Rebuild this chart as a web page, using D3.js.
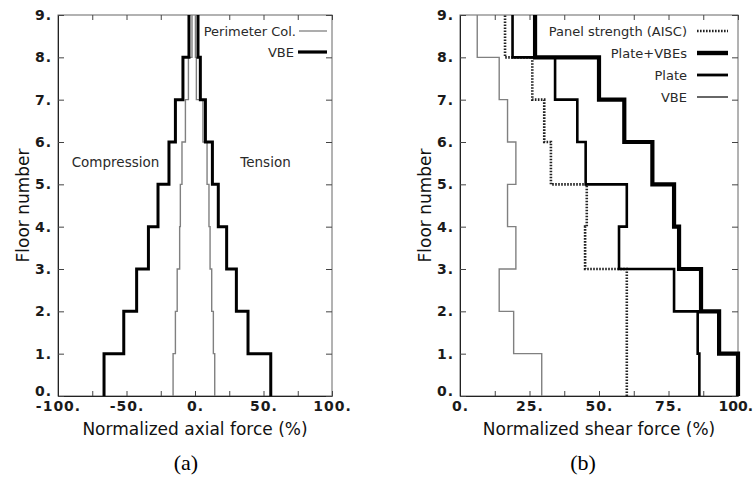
<!DOCTYPE html>
<html>
<head>
<meta charset="utf-8">
<script src="https://cdn.jsdelivr.net/npm/d3@7"></script>
<style>
  body { margin: 0; background: #fff; }
  svg { display: block; }
  .tick text { font-family: "DejaVu Sans", sans-serif; font-size: 14px; font-weight: bold; fill: #1a1a1a; letter-spacing: 1px; }
  .lbl { font-family: "DejaVu Sans", sans-serif; fill: #2a2a2a; }
</style>
</head>
<body>
<svg id="chart" width="755" height="486"></svg>
<script>
// story values, one per storey: floor 0-1, 1-2, ... 8-9
var floors = [0, 1, 2, 3, 4, 5, 6, 7, 8, 9];

// (a) axial force, %
var vbe_comp = [-66.4, -52, -42.6, -34, -27, -19, -14.3, -8.8, -4.4];
var vbe_tens = [55.3, 38.7, 30.2, 23.1, 17, 12.7, 7.6, 3.9, 2.2];
var perim_comp = [-16, -14.3, -13, -11.2, -10.7, -9.5, -7, -4.8, -2.2];
var perim_tens = [14.4, 13.4, 12.2, 11, 10.2, 8.8, 5.8, 1.0, 0.3];

// (b) shear force, %
var shear_vbe = [29.4, 19.3, 14.1, 20.1, 17.1, 20.1, 17.1, 14.1, 6.2];
var shear_panel = [60, 60, 60, 45, 45.6, 32.7, 30.3, 26, 16.2];
var shear_plate = [86.1, 85.5, 77, 57.2, 60, 45.2, 42.2, 34.2, 18.9];
var shear_plate_vbe = [100, 93.2, 86.7, 78.8, 77, 69.2, 59.1, 50, 27];

var svg = d3.select("#chart");

var top_y = 15, bot_y = 396;
var y = d3.scaleLinear().domain([0, 9]).range([bot_y, top_y]);

function stepPoints(vals) {
    var pts = [];
    for (let i = 0; i < vals.length; i++) {
        pts.push([vals[i], floors[i]]);
        pts.push([vals[i], floors[i + 1]]);
    }
    return pts;
}

function panel(x0, x1, xdomain, xticks, xlabelStep, title) {
    var x = d3.scaleLinear().domain(xdomain).range([x0, x1]);
    var g = svg.append("g");

    g.append("rect")
        .attr("x", x0).attr("y", top_y)
        .attr("width", x1 - x0).attr("height", bot_y - top_y)
        .attr("fill", "none").attr("stroke", "#666").attr("stroke-width", 1);

    var fmt = function(d) {
        return Math.abs(d % xlabelStep) < 1e-6 ? d + "." : "";
    };

    g.append("g")
        .attr("transform", "translate(0," + bot_y + ")")
        .call(d3.axisBottom(x).tickValues(xticks).tickFormat(fmt).tickSizeInner(-5).tickSizeOuter(0).tickPadding(5))
        .call(a => a.select(".domain").attr("stroke", "#222"));
    g.append("g")
        .attr("transform", "translate(0," + top_y + ")")
        .call(d3.axisTop(x).tickValues(xticks).tickFormat("").tickSizeInner(-5).tickSizeOuter(0))
        .call(a => a.select(".domain").remove());
    g.append("g")
        .attr("transform", "translate(" + x0 + ",0)")
        .call(d3.axisLeft(y).tickValues(floors).tickFormat(d => d + ".").tickSizeInner(-6).tickSizeOuter(0).tickPadding(6))
        .call(a => a.select(".domain").attr("stroke", "#222"))
        // the bottom floor label sits just above the x axis
        .call(a => a.selectAll(".tick text").filter(d => d === 0).attr("dy", "-0.05em"));
    g.append("g")
        .attr("transform", "translate(" + x1 + ",0)")
        .call(d3.axisRight(y).tickValues(floors).tickFormat("").tickSizeInner(-6).tickSizeOuter(0))
        .call(a => a.select(".domain").remove());

    g.selectAll(".tick line").attr("stroke", "#444");

    g.append("text").attr("class", "lbl")
        .attr("x", (x0 + x1) / 2).attr("y", 435)
        .attr("text-anchor", "middle").style("font-size", "17px").style("fill", "#111")
        .text(title);

    g.append("text").attr("class", "lbl")
        .attr("transform", "translate(" + (x0 - 29) + "," + ((top_y + bot_y) / 2) + ") rotate(-90)")
        .attr("text-anchor", "middle").style("font-size", "17px").style("fill", "#111")
        .text("Floor number");

    return { g: g, x: x };
}

function drawSeries(p, vals, color, width, dash) {
    var line = d3.line().x(d => p.x(d[0])).y(d => y(d[1]));
    p.g.append("path")
        .attr("d", line(stepPoints(vals)))
        .attr("fill", "none")
        .attr("stroke", color)
        .attr("stroke-width", width)
        .attr("stroke-dasharray", dash || null)
        .attr("stroke-linejoin", "miter");
}

function legendItem(p, xEnd, lx0, lx1, ly, label, color, width, dash) {
    p.g.append("text").attr("class", "lbl")
        .attr("x", xEnd).attr("y", ly).attr("dy", "0.36em")
        .attr("text-anchor", "end").style("font-size", "13px")
        .text(label);
    p.g.append("line")
        .attr("x1", lx0).attr("x2", lx1).attr("y1", ly).attr("y2", ly)
        .attr("stroke", color).attr("stroke-width", width)
        .attr("stroke-dasharray", dash || null);
}

// (a)
var pa = panel(58, 332, [-100, 100], d3.range(-100, 101, 25), 50, "Normalized axial force (%)");
drawSeries(pa, perim_comp, "#808080", 1.4);
drawSeries(pa, perim_tens, "#808080", 1.4);
drawSeries(pa, vbe_comp, "#000", 3);
drawSeries(pa, vbe_tens, "#000", 3);

pa.g.append("text").attr("class", "lbl")
    .attr("x", 115.5).attr("y", 167).attr("text-anchor", "middle")
    .style("font-size", "13.5px").text("Compression");
pa.g.append("text").attr("class", "lbl")
    .attr("x", 265.5).attr("y", 167).attr("text-anchor", "middle")
    .style("font-size", "13.5px").text("Tension");

legendItem(pa, 296, 299, 327, 31, "Perimeter Col.", "#808080", 1.3);
legendItem(pa, 294, 298, 327, 52, "VBE", "#000", 3.2);

// (b)
var pb = panel(460, 738, [0, 100], d3.range(0, 100.1, 12.5), 25, "Normalized shear force (%)");
// last x label would run off the page edge, tighten it a little
pb.g.selectAll(".tick text").filter(d => d === 100)
    .style("letter-spacing", "0px").attr("dx", "-0.2em");
drawSeries(pb, shear_vbe, "#808080", 1.4);
drawSeries(pb, shear_panel, "#222", 2.6, "1.6,1.4");
drawSeries(pb, shear_plate, "#000", 2.6);
drawSeries(pb, shear_plate_vbe, "#000", 4.2);

legendItem(pb, 687, 697, 728, 31, "Panel strength (AISC)", "#222", 2.4, "1.6,1.4");
legendItem(pb, 687, 697, 728, 53, "Plate+VBEs", "#000", 4.4);
legendItem(pb, 687, 697, 728, 75, "Plate", "#000", 2.8);
legendItem(pb, 687, 697, 728, 97, "VBE", "#000", 1.2);

// captions
svg.append("text").attr("x", 186).attr("y", 470).attr("text-anchor", "middle")
    .style("font-family", "'Liberation Serif', 'Times New Roman', serif").style("font-size", "22px")
    .text("(a)");
svg.append("text").attr("x", 583).attr("y", 470).attr("text-anchor", "middle")
    .style("font-family", "'Liberation Serif', 'Times New Roman', serif").style("font-size", "22px")
    .text("(b)");
</script>
</body>
</html>
